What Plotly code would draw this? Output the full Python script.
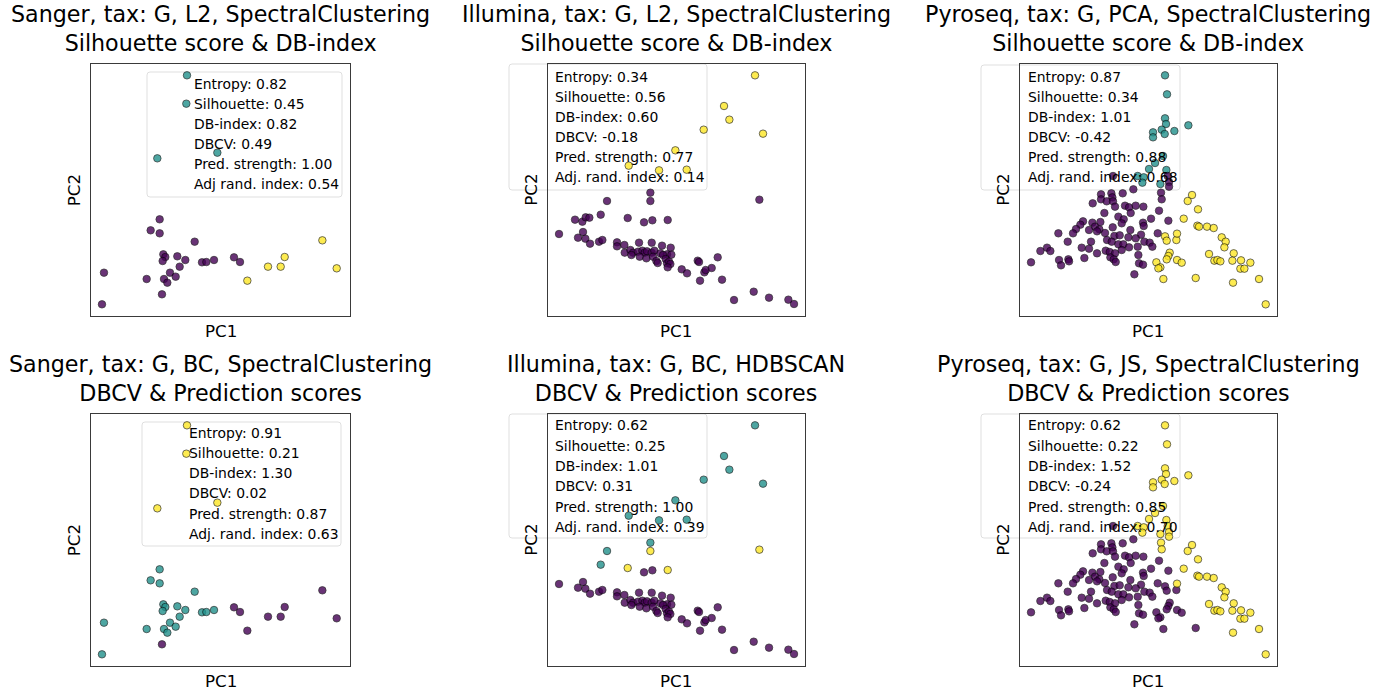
import plotly.graph_objects as go

W, H = 1387, 695

# ---------------- data (PC coordinates, arbitrary units) ----------------
# Sanger
sanger_pc1 = [297, 295, 388, 208,
              215, 188, 215, 320, 226, 232, 224, 268, 292, 275, 342, 355, 378, 48, 246, 263, 176, 228, 238, 42,
              438, 456, 222,
              703, 590, 540, 578, 478, 746]
sanger_pc2 = [-46, -131, -278, -295,
              -478, -511, -520, -545, -583, -591, -603, -589, -600, -620, -607, -606, -600, -638, -638, -650, -657, -657, -668, -733,
              -592, -606, -703,
              -541, -591, -620, -620, -662, -625]
sanger_L2 = [1] * 4 + [0] * 20 + [0] * 3 + [2] * 6
sanger_BC = [2] * 4 + [1] * 20 + [0] * 3 + [0] * 6

# Illumina
illumina_pc1 = [636, 543, 559, 482, 660, 397, 257, 348, 431,
                322, 192, 173,
                322, 254, 374, 649,
                96, 118, 128, 139,
                48, 120, 105, 127, 141, 168, 178, 222, 222, 244, 288, 326, 357, 383, 245, 262, 270, 285, 298, 305,
                312, 326, 334, 352, 372, 385, 265, 290, 310, 330, 340, 360, 368, 372, 378, 382, 344, 374, 464, 468,
                416, 432, 484, 488, 506, 524, 471, 537, 632, 678, 573, 736, 753, 303, 328]
illumina_pc2 = [-46, -138, -179, -209, -221, -271, -317, -331, -329,
                -398, -423, -464,
                -423, -474, -480, -419,
                -479, -485, -472, -473,
                -522, -516, -533, -536, -551, -545, -540, -547, -559, -555, -548, -548, -557, -563, -578, -570, -578, -575, -572, -578,
                -574, -578, -572, -580, -583, -584, -585, -590, -595, -590, -603, -585, -597, -610, -605, -612, -609, -622, -602, -606,
                -628, -640, -637, -630, -624, -592, -662, -659, -695, -713, -720, -719, -732, -487, -481]
illumina_L2 = [1] * 9 + [0] * 3 + [0] * 4 + [0] * 4 + [0] * 55
illumina_BC = [1] * 9 + [1] * 3 + [2] * 4 + [-1] * 4 + [0] * 55

# Pyroseq
pyro_pc1 = [450, 456, 450, 453, 440, 414, 414, 449, 478, 520, 444, 420, 402, 454, 368, 386, 382, 436,
            458, 462, 462, 438, 440,
            294, 355, 323, 258, 258, 289, 292, 275, 294, 233, 300, 330, 342, 362, 385, 268, 347, 310, 408, 432,
            460, 326, 204, 232, 256, 196, 183, 240, 253, 293, 320, 346, 384, 386, 130, 174, 222, 246, 270, 298,
            314, 340, 378, 428, 158, 228, 276, 290, 310, 325, 362, 388, 404, 96, 76, 106, 200, 222, 246, 272,
            284, 300, 320, 342, 368, 412, 132, 160, 208, 286, 296, 302, 370, 48, 138, 162, 372, 384, 358,
            450, 484, 455, 464, 460, 455, 486, 500, 424, 436, 430, 445, 542,
            531, 518, 549, 506, 547, 552, 576, 596, 486, 620, 632, 628, 582, 598, 607, 616, 656, 652, 678, 706,
            676, 688, 654, 732, 752]
pyro_pc2 = [-46, -103, -175, -192, -209, -217, -232, -222, -213, -196, -288, -309, -327, -330, -348, -352, -368, -372,
            -348, -366, -380, -398, -418,
            -348, -388, -400, -403, -418, -400, -412, -424, -424, -430, -440, -437, -442, -437, -440, -459, -459, -470, -476, -452,
            -482, -478, -484, -488, -486, -494, -507, -500, -508, -502, -490, -510, -488, -498, -520, -520, -510, -514, -519, -528,
            -526, -532, -524, -520, -545, -545, -540, -545, -553, -553, -535, -545, -548, -563, -573, -573, -563, -566, -580, -572,
            -576, -580, -570, -562, -560, -560, -600, -598, -594, -592, -598, -606, -585, -607, -616, -604, -610, -614, -643,
            -529, -540, -542, -578, -588, -598, -600, -608, -607, -622, -625, -657, -654,
            -405, -423, -448, -476, -497, -500, -500, -504, -521, -532, -545, -562, -582, -602, -600, -604, -580, -602, -601, -608,
            -626, -626, -668, -657, -733]
pyro_PCA = [1] * 18 + [0] * 5 + [0] * 79 + [2] * 13 + [2] * 25
pyro_JS = [1] * 18 + [1] * 5 + [0] * 79 + [0] * 13 + [1] * 25

titles = [
    ("Sanger, tax: G, L2, SpectralClustering", "Silhouette score & DB-index"),
    ("Illumina, tax: G, L2, SpectralClustering", "Silhouette score & DB-index"),
    ("Pyroseq, tax: G, PCA, SpectralClustering", "Silhouette score & DB-index"),
    ("Sanger, tax: G, BC, SpectralClustering", "DBCV & Prediction scores"),
    ("Illumina, tax: G, BC, HDBSCAN", "DBCV & Prediction scores"),
    ("Pyroseq, tax: G, JS, SpectralClustering", "DBCV & Prediction scores"),
]
scores = [
    ["Entropy: 0.82", "Silhouette: 0.45", "DB-index: 0.82", "DBCV: 0.49", "Pred. strength: 1.00", "Adj rand. index: 0.54"],
    ["Entropy: 0.34", "Silhouette: 0.56", "DB-index: 0.60", "DBCV: -0.18", "Pred. strength: 0.77", "Adj. rand. index: 0.14"],
    ["Entropy: 0.87", "Silhouette: 0.34", "DB-index: 1.01", "DBCV: -0.42", "Pred. strength: 0.88", "Adj. rand. index: 0.68"],
    ["Entropy: 0.91", "Silhouette: 0.21", "DB-index: 1.30", "DBCV: 0.02", "Pred. strength: 0.87", "Adj. rand. index: 0.63"],
    ["Entropy: 0.62", "Silhouette: 0.25", "DB-index: 1.01", "DBCV: 0.31", "Pred. strength: 1.00", "Adj. rand. index: 0.39"],
    ["Entropy: 0.62", "Silhouette: 0.22", "DB-index: 1.52", "DBCV: -0.24", "Pred. strength: 0.85", "Adj. rand. index: 0.70"],
]

panels = [
    (sanger_pc1, sanger_pc2, sanger_L2),
    (illumina_pc1, illumina_pc2, illumina_L2),
    (pyro_pc1, pyro_pc2, pyro_PCA),
    (sanger_pc1, sanger_pc2, sanger_BC),
    (illumina_pc1, illumina_pc2, illumina_BC),
    (pyro_pc1, pyro_pc2, pyro_JS),
]

# ---------------- layout geometry (pixels) ----------------
col_px = [(91.3, 349.7), (547.7, 804.7), (1019.7, 1276.7)]
row_px = [(64, 316), (414, 666)]
x_ranges = [[10, 785], [14, 785], [14, 785]]
y_range = [-768, -12]
boxes = [  # legend boxes: x0, x1, y0, y1, text x, first row y, row step
    (147, 342, 72, 197, 192, 83.5, 20.1),
    (509, 707, 64, 190, 553, 76.7, 20.1),
    (981, 1180, 65, 190, 1026, 76.7, 20.1),
    (142, 341, 422, 546, 187, 432.7, 20.2),
    (509, 707, 414, 538, 553, 425.3, 20.3),
    (981, 1180, 414, 538, 1026, 425.3, 20.3),
]

VIR = {0.0: "#440154", 0.5: "#21918c", 1.0: "#fde725"}


def px(x):
    return x / W


def py(y):
    return 1 - y / H


fig = go.Figure()
annotations = []
shapes = []
FONT = "DejaVu Sans"

for i, (xs, ys, labs) in enumerate(panels):
    r, c = divmod(i, 3)
    ax = "" if i == 0 else str(i + 1)
    maxlab = max(labs)
    xx, yy, cols = [], [], []
    for x, y, l in zip(xs, ys, labs):
        if l < 0:
            continue
        xx.append(x)
        yy.append(y)
        cols.append(VIR[round(l / maxlab * 2) / 2])
    fig.add_trace(go.Scatter(
        x=xx, y=yy, mode="markers", xaxis="x" + ax, yaxis="y" + ax, showlegend=False,
        marker=dict(size=7.5, color=cols, opacity=0.8, line=dict(color="black", width=0.7)),
    ))
    x0, x1 = col_px[c]
    y0, y1 = row_px[r]
    fig.layout["xaxis" + ax] = dict(domain=[px(x0), px(x1)], range=x_ranges[c], showticklabels=False,
                                    ticks="", showgrid=False, zeroline=False, showline=True, mirror=True,
                                    linecolor="#3a3a3a", linewidth=1, anchor="y" + ax)
    fig.layout["yaxis" + ax] = dict(domain=[py(y1), py(y0)], range=y_range, showticklabels=False,
                                    ticks="", showgrid=False, zeroline=False, showline=True, mirror=True,
                                    linecolor="#3a3a3a", linewidth=1, anchor="x" + ax)
    cx = (x0 + x1) / 2
    # two-line title
    t1, t2 = titles[i]
    annotations.append(dict(text=t1 + "<br>" + t2, x=px(cx), y=py(y0 - 36), xref="paper", yref="paper",
                            xanchor="center", yanchor="middle", showarrow=False, align="center",
                            font=dict(family=FONT, size=22.2, color="black")))
    # axis labels
    annotations.append(dict(text="PC1", x=px(cx), y=py(y1 + 15), xref="paper", yref="paper",
                            xanchor="center", yanchor="middle", showarrow=False,
                            font=dict(family=FONT, size=16.7, color="black")))
    annotations.append(dict(text="PC2", x=px(x0 - 17), y=py((y0 + y1) / 2), xref="paper", yref="paper",
                            xanchor="center", yanchor="middle", showarrow=False, textangle=-90,
                            font=dict(family=FONT, size=16.7, color="black")))
    # score box
    bx0, bx1, by0, by1, tx, ty, step = boxes[i]
    rx, ry = 3 / W, 3 / H
    X0, X1, Y0, Y1 = px(bx0), px(bx1), py(by1), py(by0)
    path = (f"M {X0 + rx},{Y0} L {X1 - rx},{Y0} Q {X1},{Y0} {X1},{Y0 + ry} L {X1},{Y1 - ry} "
            f"Q {X1},{Y1} {X1 - rx},{Y1} L {X0 + rx},{Y1} Q {X0},{Y1} {X0},{Y1 - ry} "
            f"L {X0},{Y0 + ry} Q {X0},{Y0} {X0 + rx},{Y0} Z")
    shapes.append(dict(type="path", path=path, xref="paper", yref="paper", layer="below",
                       fillcolor="rgba(255,255,255,0.8)", line=dict(color="rgba(215,215,215,0.8)", width=1)))
    for k, line in enumerate(scores[i]):
        annotations.append(dict(text=line, x=px(tx), y=py(ty + k * step), xref="paper", yref="paper",
                                xanchor="left", yanchor="middle", showarrow=False,
                                font=dict(family=FONT, size=13.9, color="black")))

fig.update_layout(
    width=W, height=H, margin=dict(l=0, r=0, t=0, b=0),
    paper_bgcolor="white", plot_bgcolor="rgba(0,0,0,0)",
    annotations=annotations, shapes=shapes, showlegend=False,
)

fig.write_html("out.html")
